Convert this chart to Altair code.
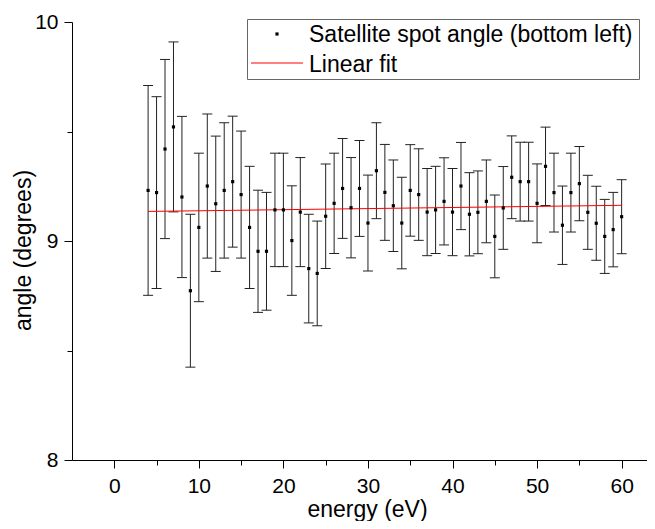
import altair as alt
import pandas as pd

# ---- data ----
energy = list(range(4, 61))
angle = [9.231, 9.221, 9.420, 9.521, 9.201, 8.773, 9.062, 9.251, 9.170, 9.231,
         9.271, 9.212, 9.062, 8.953, 8.953, 9.142, 9.142, 9.002, 9.132, 8.874,
         8.852, 9.113, 9.172, 9.240, 9.152, 9.240, 9.082, 9.321, 9.222, 9.161,
         9.082, 9.231, 9.212, 9.132, 9.142, 9.181, 9.132, 9.251, 9.122, 9.131,
         9.181, 9.021, 9.151, 9.291, 9.271, 9.271, 9.172, 9.341, 9.221, 9.072,
         9.221, 9.262, 9.131, 9.081, 9.021, 9.052, 9.111]
angle_err = [0.479, 0.438, 0.409, 0.388, 0.368, 0.349, 0.339, 0.329, 0.309, 0.309,
             0.299, 0.290, 0.279, 0.279, 0.269, 0.259, 0.259, 0.250, 0.249, 0.248,
             0.239, 0.239, 0.229, 0.228, 0.229, 0.219, 0.219, 0.219, 0.219, 0.209,
             0.209, 0.209, 0.209, 0.199, 0.199, 0.199, 0.199, 0.199, 0.190, 0.189,
             0.189, 0.189, 0.189, 0.189, 0.180, 0.180, 0.180, 0.179, 0.180, 0.179,
             0.180, 0.170, 0.169, 0.169, 0.169, 0.170, 0.169]
fit_energy = [4, 60]
fit_angle = [9.135, 9.163]

x_major = [0, 10, 20, 30, 40, 50, 60]
x_minor = [5, 15, 25, 35, 45, 55]
y_major = [8, 9, 10]
y_minor = [8.5, 9.5]
legend_labels = ["Satellite spot angle (bottom left)", "Linear fit"]

x_title = "energy (eV)"
y_title = "angle (degrees)"

# ---- tables ----
df = pd.DataFrame({"energy": energy, "angle": angle, "err": angle_err})
df["lo"] = df["angle"] - df["err"]
df["hi"] = df["angle"] + df["err"]
fit_df = pd.DataFrame({"energy": fit_energy, "angle": fit_angle})

FONT = "Liberation Sans"
INK = "#222222"

xscale = alt.Scale(domain=[-5, 63], nice=False, zero=False)
yscale = alt.Scale(domain=[8, 10], nice=False, zero=False)

x_axis = alt.Axis(
    orient="bottom", values=sorted(x_major + x_minor), grid=False, title=x_title,
    labelExpr="datum.value % 10 === 0 ? format(datum.value, 'd') : ''",
    tickSize={"condition": {"test": "datum.value % 10 === 0", "value": 8}, "value": 5},
    tickColor="black", domainColor="black", labelColor="black",
    labelFont=FONT, labelFontSize=21, labelPadding=7, labelFlush=False, labelOverlap=False,
    titleFont=FONT, titleFontSize=23, titleFontWeight="normal", titleColor="black",
    titleX=295, titleY=56, titleBaseline="alphabetic", titleAlign="center",
)
y_axis = alt.Axis(
    orient="left", values=sorted(y_major + y_minor), grid=False, title=y_title,
    labelExpr="datum.value % 1 === 0 ? format(datum.value, 'd') : ''",
    tickSize={"condition": {"test": "datum.value % 1 === 0", "value": 8}, "value": 5},
    tickColor="black", domainColor="black", labelColor="black",
    labelFont=FONT, labelFontSize=21, labelPadding=6, labelFlush=False, labelOverlap=False,
    titleFont=FONT, titleFontSize=23, titleFontWeight="normal", titleColor="black",
    titleX=-42, titleY=228, titleBaseline="alphabetic", titleAlign="center", titleAngle=270,
)

base = alt.Chart(df)

bars = base.mark_rule(color=INK, strokeWidth=1).encode(
    x=alt.X("energy:Q", scale=xscale, axis=x_axis),
    y=alt.Y("lo:Q", scale=yscale, axis=y_axis),
    y2="hi:Q",
)
cap_lo = base.mark_tick(orient="horizontal", size=10, thickness=1, color=INK, opacity=1).encode(
    x=alt.X("energy:Q", scale=xscale),
    y=alt.Y("lo:Q", scale=yscale),
)
cap_hi = base.mark_tick(orient="horizontal", size=10, thickness=1, color=INK, opacity=1).encode(
    x=alt.X("energy:Q", scale=xscale),
    y=alt.Y("hi:Q", scale=yscale),
)
points = base.mark_square(size=10, color="black", opacity=1).encode(
    x=alt.X("energy:Q", scale=xscale),
    y=alt.Y("angle:Q", scale=yscale),
)
fit = alt.Chart(fit_df).mark_line(color="#ff0000", strokeWidth=1).encode(
    x=alt.X("energy:Q", scale=xscale),
    y=alt.Y("angle:Q", scale=yscale),
)

# ---- legend (drawn box) ----
one = alt.Chart(pd.DataFrame({"label": legend_labels[:1]}))
two = alt.Chart(pd.DataFrame({"label": legend_labels[1:]}))
leg_box = one.mark_rect(fill="white", stroke="#666666", strokeWidth=1).encode(
    x=alt.value(175.5), x2=alt.value(567.5), y=alt.value(-2.5), y2=alt.value(57.5))
leg_pt = one.mark_square(size=10, color="black", opacity=1).encode(
    x=alt.value(205), y=alt.value(12))
leg_line = two.mark_rule(color="#ff0000", strokeWidth=1).encode(
    x=alt.value(179), x2=alt.value(231), y=alt.value(41))
leg_t1 = one.mark_text(align="left", baseline="alphabetic", font=FONT, fontSize=23,
                       color="black").encode(text="label:N", x=alt.value(237), y=alt.value(20))
leg_t2 = two.mark_text(align="left", baseline="alphabetic", font=FONT, fontSize=23,
                       color="black").encode(text="label:N", x=alt.value(237), y=alt.value(50))

chart = alt.layer(
    bars, cap_lo, cap_hi, fit, points, leg_box, leg_pt, leg_line, leg_t1, leg_t2
).properties(
    width=575, height=438,
    padding={"left": 64, "top": 14, "right": 0, "bottom": 61},
    autosize=alt.AutoSizeParams(type="none"),
).configure_view(stroke=None)

chart.save("out.html", embed_options={"renderer": "svg", "actions": False})
